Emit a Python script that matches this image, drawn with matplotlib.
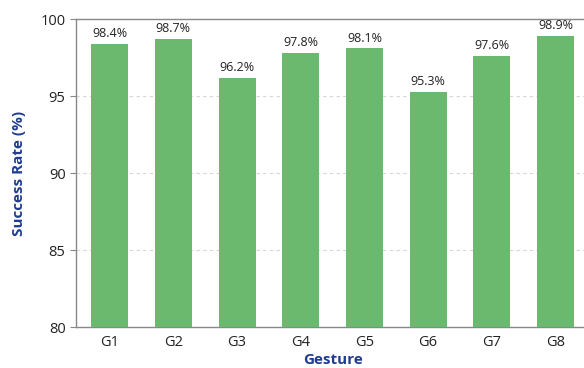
import matplotlib
matplotlib.use("Agg")
import matplotlib.pyplot as plt

gestures = ["G1", "G2", "G3", "G4", "G5", "G6", "G7", "G8"]
success = [98.4, 98.7, 96.2, 97.8, 98.1, 95.3, 97.6, 98.9]
y_ticks = [80, 85, 90, 95, 100]

plt.rcParams['font.family'] = ['Open Sans', 'DejaVu Sans']

fig = plt.figure(figsize=(5.84, 3.68), dpi=100)
ax = fig.add_axes([0.130, 0.111, 0.879, 0.837])

x = range(len(gestures))
ax.bar(x, success, width=0.58, color="#6ab96f", zorder=3)
for xi, v in zip(x, success):
    ax.text(xi, v + 0.25, f"{v}%", ha="center", va="bottom", fontsize=9, color="#222222", zorder=4)

ax.set_ylim(80, 100)
ax.set_xlim(-0.53, 7.53)
ax.set_yticks(y_ticks)
ax.set_xticks(list(x))
ax.set_xticklabels(gestures)
ax.tick_params(axis='y', labelsize=10.5, length=4, color="#888888", labelcolor="#222222")
ax.tick_params(axis='x', labelsize=10.5, length=0, pad=6, labelcolor="#222222")

for yv in [85, 90, 95]:
    ax.axhline(yv, color="#d6d6d6", linestyle=(0, (3, 3)), linewidth=0.8, zorder=1)

for s in ["left", "top", "right", "bottom"]:
    ax.spines[s].set_color("#888888")
    ax.spines[s].set_linewidth(1.0)

ax.set_ylabel("Success Rate (%)", fontsize=11, fontweight="bold", color="#1f3c8f", labelpad=10)
ax.set_xlabel("Gesture", fontsize=11, fontweight="bold", color="#1f3c8f", labelpad=2)

fig.savefig("out.png", dpi=100)
